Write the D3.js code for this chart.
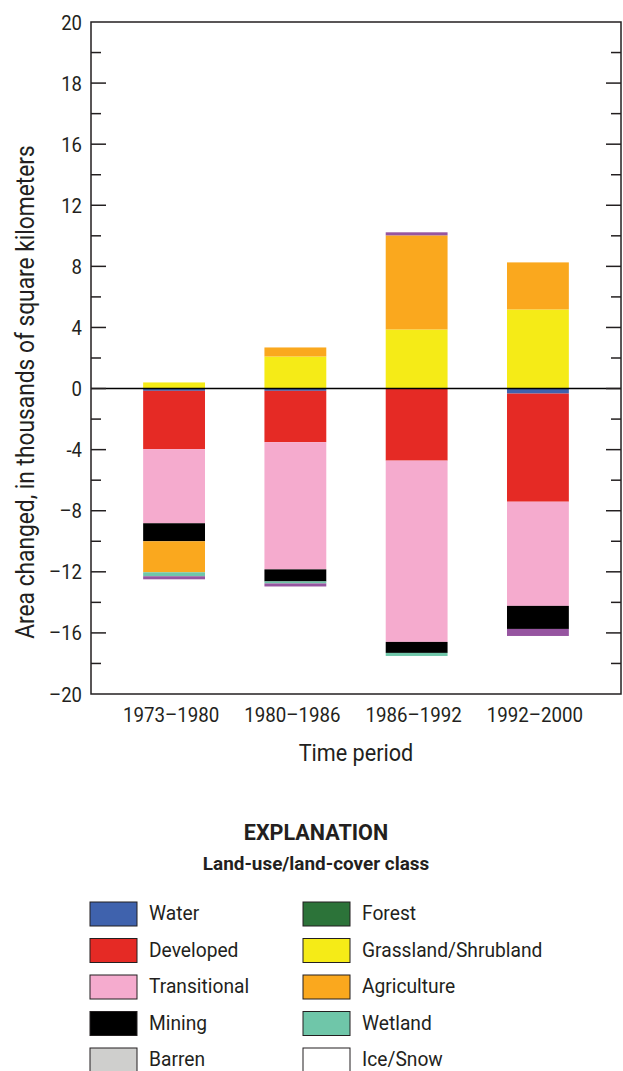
<!DOCTYPE html>
<html>
<head>
<meta charset="utf-8">
<script src="https://cdn.jsdelivr.net/npm/d3@7"></script>
<style>
  body { margin: 0; background: #fff; }
  text { font-family: "Liberation Sans Narrow", "Arial Narrow", "Roboto", sans-serif; fill: #231f20; }
</style>
</head>
<body>
<div id="wrapper"></div>
<script>
// time periods (x categories)
var PERIODS = ["1973–1980", "1980–1986", "1986–1992", "1992–2000"];

// land-cover classes, in stacking order; "Other" is the purple band that has no legend entry
var CLASSES = ["Water", "Developed", "Transitional", "Mining", "Barren", "Forest",
               "Grassland/Shrubland", "Agriculture", "Wetland", "Ice/Snow", "Other"];
var COLORS = ["#3f62ad", "#e52a25", "#f5abce", "#000000", "#cfcfcd", "#2c7339",
              "#f5eb17", "#faa81e", "#6fc6a9", "#ffffff", "#9655a0"];

// area changed, thousands of km2, one value per period
var water        = [-0.15, -0.15,  0.00, -0.33];
var developed    = [-3.82, -3.36, -4.72, -7.08];
var transitional = [-4.85, -8.33, -11.87, -6.82];
var mining       = [-1.18, -0.79, -0.72, -1.51];
var barren       = [0, 0, 0, 0];
var forest       = [0, 0, 0, 0];
var grassland    = [0.40, 2.10, 3.87, 5.18];
var agriculture  = [-2.03, 0.59, 6.16, 3.08];
var wetland      = [-0.26, -0.13, -0.20, 0];
var iceSnow      = [0, 0, 0, 0];
var other        = [-0.20, -0.20, 0.20, -0.46];

// y ticks: the printed labels (the top two do not follow the scale in the original figure)
var MAJOR_TICKS = [24, 20, 16, 12, 8, 4, 0, -4, -8, -12, -16, -20];
var TICK_LABELS = ["20", "18", "16", "12", "8", "4", "0", "-4", "–8", "–12", "–16", "–20"];
var MINOR_TICKS = [22, 18, 14, 10, 6, 2, -2, -6, -10, -14, -18];

var LEGEND_CLASSES = CLASSES.slice(0, 10);

// squeeze text horizontally, the original uses a condensed face
function condense(sel, k) {
    sel.each(function () {
        var len = this.getComputedTextLength();
        d3.select(this)
            .attr("textLength", len * k)
            .attr("lengthAdjust", "spacingAndGlyphs");
    });
}

function build() {
    var series = [water, developed, transitional, mining, barren, forest,
                  grassland, agriculture, wetland, iceSnow, other];

    var rows = PERIODS.map(function (p, i) {
        var row = { period: p };
        CLASSES.forEach(function (c, k) { row[c] = series[k][i]; });
        return row;
    });

    var stacked = d3.stack()
        .keys(CLASSES)
        .offset(d3.stackOffsetDiverging)(rows);

    var dimension = {
        width: 623,
        height: 1071,
        margin: { top: 22, right: 2, bottom: 377, left: 91 }
    };
    dimension.boundedWidth = dimension.width - dimension.margin.left - dimension.margin.right;
    dimension.boundedHeight = dimension.height - dimension.margin.top - dimension.margin.bottom;

    var svg = d3.select("#wrapper")
        .append("svg")
        .attr("width", dimension.width)
        .attr("height", dimension.height);

    var bounds = svg.append("g")
        .attr("transform", "translate(" + dimension.margin.left + "," + dimension.margin.top + ")");

    var x = d3.scaleBand()
        .domain(PERIODS)
        .range([0, dimension.boundedWidth])
        .paddingInner(0.49)
        .paddingOuter(0.43);

    var y = d3.scaleLinear()
        .domain([-20, 24])
        .range([dimension.boundedHeight, 0]);

    var color = d3.scaleOrdinal().domain(CLASSES).range(COLORS);

    // bars
    bounds.selectAll("g.layer")
        .data(stacked)
        .enter()
        .append("g")
        .attr("class", "layer")
        .attr("fill", function (d) { return color(d.key); })
        .selectAll("rect")
        .data(function (d) { return d; })
        .enter()
        .append("rect")
        .attr("x", function (d) { return x(d.data.period); })
        .attr("width", x.bandwidth())
        .attr("y", function (d) { return y(Math.max(d[0], d[1])); })
        .attr("height", function (d) { return Math.abs(y(d[0]) - y(d[1])); });

    // zero line
    bounds.append("line")
        .attr("x1", 0).attr("x2", dimension.boundedWidth)
        .attr("y1", y(0)).attr("y2", y(0))
        .attr("stroke", "#000").attr("stroke-width", 1.5);

    // frame
    bounds.append("rect")
        .attr("width", dimension.boundedWidth)
        .attr("height", dimension.boundedHeight)
        .attr("fill", "none")
        .attr("stroke", "#231f20")
        .attr("stroke-width", 1.5);

    // ticks, inward on both sides
    function ticks(values, len) {
        bounds.append("g").selectAll("line")
            .data(values).enter().append("line")
            .attr("x1", 0).attr("x2", len)
            .attr("y1", function (d) { return y(d); })
            .attr("y2", function (d) { return y(d); })
            .attr("stroke", "#231f20").attr("stroke-width", 1.5);
        bounds.append("g").selectAll("line")
            .data(values).enter().append("line")
            .attr("x1", dimension.boundedWidth).attr("x2", dimension.boundedWidth - len)
            .attr("y1", function (d) { return y(d); })
            .attr("y2", function (d) { return y(d); })
            .attr("stroke", "#231f20").attr("stroke-width", 1.5);
    }
    ticks(MAJOR_TICKS.slice(1, -1), 15);
    ticks(MINOR_TICKS, 10);

    // y tick labels
    bounds.append("g").selectAll("text")
        .data(MAJOR_TICKS).enter().append("text")
        .attr("x", -9)
        .attr("y", function (d) { return y(d); })
        .attr("dy", "0.36em")
        .style("text-anchor", "end")
        .style("font-size", "21px")
        .text(function (d, i) { return TICK_LABELS[i]; })
        .call(condense, 0.88);

    // x labels
    bounds.append("g").selectAll("text")
        .data(PERIODS).enter().append("text")
        .attr("x", function (d) { return x(d) + x.bandwidth() / 2 - 3; })
        .attr("y", dimension.boundedHeight + 28)
        .style("text-anchor", "middle")
        .style("font-size", "21px")
        .text(function (d) { return d; })
        .call(condense, 0.89);

    bounds.append("text")
        .attr("x", 356 - dimension.margin.left)
        .attr("y", dimension.boundedHeight + 67)
        .style("text-anchor", "middle")
        .style("font-size", "23px")
        .text("Time period")
        .call(condense, 0.94);

    svg.append("text")
        .attr("transform", "translate(34," + 392 + ") rotate(-90)")
        .style("text-anchor", "middle")
        .style("font-size", "25px")
        .text("Area changed, in thousands of square kilometers")
        .call(condense, 0.91);

    // explanation / legend
    svg.append("text")
        .attr("x", 316).attr("y", 840)
        .style("text-anchor", "middle")
        .style("font-size", "22px")
        .style("font-weight", "bold")
        .text("EXPLANATION")
        .call(condense, 0.98);

    svg.append("text")
        .attr("x", 316).attr("y", 870)
        .style("text-anchor", "middle")
        .style("font-size", "18px")
        .style("font-weight", "bold")
        .text("Land-use/land-cover class")
        .call(condense, 1.05);

    var legend = svg.append("g")
        .selectAll("g")
        .data(LEGEND_CLASSES)
        .enter()
        .append("g")
        .attr("transform", function (d, i) {
            var col = Math.floor(i / 5), row = i % 5;
            return "translate(" + (90 + col * 213) + "," + (902 + row * 36.5) + ")";
        });

    legend.append("rect")
        .attr("width", 47).attr("height", 24)
        .attr("fill", function (d) { return color(d); })
        .attr("stroke", "#231f20").attr("stroke-width", 1);

    legend.append("text")
        .attr("x", 59).attr("y", 18)
        .style("font-size", "20px")
        .text(function (d) { return d; })
        .call(condense, 0.96);
}

build();
</script>
</body>
</html>
